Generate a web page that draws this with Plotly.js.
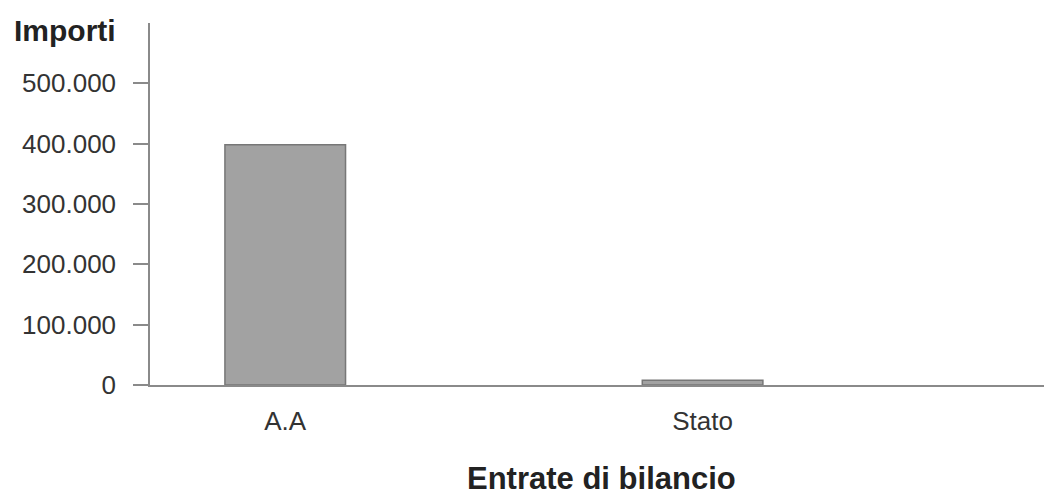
<!DOCTYPE html>
<html>
<head>
<meta charset="utf-8">
<script src="https://cdn.plot.ly/plotly-3.0.1.min.js"></script>
<style>html,body{margin:0;padding:0;background:#fff;}#chart{width:1044px;height:496px;}</style>
</head>
<body>
<div id="chart"></div>
<script>
const categories = ["A.A", "Stato"];
const values = [398000, 8000];
const yTickVals = [0, 100000, 200000, 300000, 400000, 500000];
const yTitle = "Importi";
const xTitle = "Entrate di bilancio";

const W = 1044, H = 496;
const mL = 150, mR = 0, mT = 23, mB = 111;
const pw = W - mL - mR, ph = H - mT - mB;
const FONT = "Liberation Sans, Arial, sans-serif";

const trace = {
  type: "bar",
  x: categories,
  y: values,
  width: 0.289,
  marker: { color: "#a2a2a2", line: { color: "#777777", width: 1.5 } },
  hoverinfo: "x+y"
};

const layout = {
  width: W, height: H,
  margin: { l: mL, r: mR, t: mT, b: mB, pad: 0 },
  paper_bgcolor: "#ffffff",
  plot_bgcolor: "#ffffff",
  separators: ",.",
  showlegend: false,
  font: { family: FONT, color: "#222222" },
  xaxis: {
    type: "category",
    range: [-0.324, 1.818],
    showgrid: false,
    zeroline: false,
    showline: true,
    linecolor: "#8a8a8a",
    linewidth: 1.5,
    ticks: "",
    tickfont: { family: FONT, size: 26, color: "#333333" },
    ticklabelstandoff: 12
  },
  yaxis: {
    range: [0, 600000],
    tickvals: yTickVals,
    tickformat: ",.0f",
    showgrid: false,
    zeroline: false,
    showline: true,
    linecolor: "#8a8a8a",
    linewidth: 1.5,
    ticks: "outside",
    ticklen: 15,
    tickwidth: 1.5,
    tickcolor: "#8a8a8a",
    tickfont: { family: FONT, size: 26, color: "#333333" },
    ticklabelstandoff: 12
  },
  annotations: [
    {
      text: "<b>" + yTitle + "</b>",
      xref: "paper", yref: "paper",
      x: (118 - mL) / pw, y: (mT + ph - 30) / ph,
      xanchor: "right", yanchor: "middle",
      showarrow: false,
      font: { family: FONT, size: 30, color: "#222222" }
    },
    {
      text: "<b>" + xTitle + "</b>",
      xref: "paper", yref: "paper",
      x: (601 - mL) / pw, y: (mT + ph - 478) / ph,
      xanchor: "center", yanchor: "middle",
      showarrow: false,
      font: { family: FONT, size: 31, color: "#222222" }
    }
  ]
};

Plotly.newPlot("chart", [trace], layout, { displayModeBar: false, responsive: false });
</script>
</body>
</html>
